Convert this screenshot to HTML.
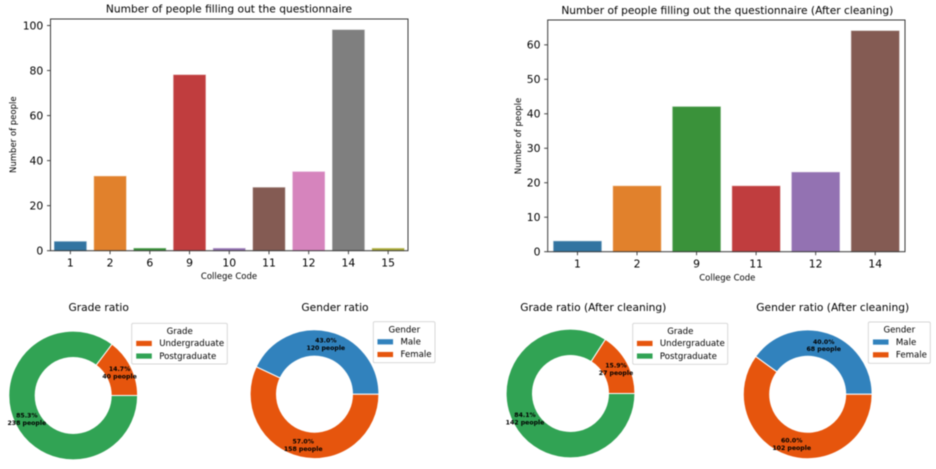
<!DOCTYPE html>
<html lang="en">
<head>
<meta charset="utf-8">
<title>Questionnaire charts</title>
<style>
html,body{margin:0;padding:0;background:#fff;width:936px;height:469px;overflow:hidden}
svg{display:block;filter:blur(.4px)}
text{font-family:"DejaVu Sans","Liberation Sans",sans-serif;fill:#000}
</style>
</head>
<body>
<svg id="figure" xmlns="http://www.w3.org/2000/svg" width="936" height="469" viewBox="0 0 936 469"></svg>
<script>
// ---- bar chart data ----
const beforeCategories = ['1', '2', '6', '9', '10', '11', '12', '14', '15'];
const beforeValues = [4, 33, 1, 78, 1, 28, 35, 98, 1];
const beforeTicks = [0, 20, 40, 60, 80, 100];
const afterCategories = ['1', '2', '9', '11', '12', '14'];
const afterValues = [3, 19, 42, 19, 23, 64];
const afterTicks = [0, 10, 20, 30, 40, 50, 60];
const beforeColors = ['#3274a1', '#e1812c', '#3a923a', '#c03d3e', '#9372b2', '#845b53', '#d684bd', '#7f7f7f', '#a9aa35'];
const afterColors = ['#3274a1', '#e1812c', '#3a923a', '#c03d3e', '#9372b2', '#845b53'];

// ---- donut chart data ----
const gradeLabels = ['Undergraduate', 'Postgraduate'];
const gradePercents = [14.7, 85.3];
const gradePeople = [40, 238];
const genderLabels = ['Male', 'Female'];
const genderPercents = [43.0, 57.0];
const genderPeople = [120, 158];
const gradeAfterPercents = [15.9, 84.1];
const gradeAfterPeople = [27, 142];
const genderAfterPercents = [40.0, 60.0];
const genderAfterPeople = [68, 102];
const gradeColors = ['#e6550d', '#31a354'];
const genderColors = ['#3182bd', '#e6550d'];

const NS = 'http://www.w3.org/2000/svg';
const fig = document.getElementById('figure');

function make(tag, attrs, parent, txt) {
  const el = document.createElementNS(NS, tag);
  for (const k in attrs) el.setAttribute(k, attrs[k]);
  if (txt !== undefined) el.textContent = txt;
  parent.appendChild(el);
  return el;
}

function drawBarChart(o) {
  const g = make('g', {}, fig);
  
  
  const yMax = Math.max.apply(null, o.values) * 1.05;
  const step = (o.right - o.left) / o.categories.length;
  const xScale = i => o.left + step * (i + 0.5);
  const yScale = v => o.bottom - (v / yMax) * (o.bottom - o.top);
  const barWidth = step * 0.8;

  o.categories.forEach((c, i) => {
    const y = yScale(o.values[i]);
    const bar = make('rect', {
      x: xScale(i) - barWidth / 2, y: y, width: barWidth, height: o.bottom - y,
      fill: o.colors[i], stroke: o.colors[i], 'stroke-opacity': 0.5, 'stroke-width': 1
    }, g);
    
    

    const tick = make('line', {
      x1: xScale(i), x2: xScale(i), y1: o.bottom, y2: o.bottom + 3.5, stroke: '#333', 'stroke-width': 0.9
    }, g);
    
    

    const lab = make('text', {
      x: xScale(i), y: o.bottom + 16, 'text-anchor': 'middle', 'font-size': 10.8
    }, g, c);
    
    
  });

  o.ticks.forEach(t => {
    const tick = make('line', {
      x1: o.left - 3.5, x2: o.left, y1: yScale(t), y2: yScale(t), stroke: '#333', 'stroke-width': 0.9
    }, g);
    
    

    const lab = make('text', {
      x: o.left - 7.2, y: yScale(t) + 3.9, 'text-anchor': 'end', 'font-size': 10.8
    }, g, String(t));
    
    
  });

  const frame = make('rect', {
    x: o.left, y: o.top, width: o.right - o.left, height: o.bottom - o.top,
    fill: 'none', stroke: '#3a3a3a', 'stroke-width': 1
  }, g);
  
  

  const title = make('text', {
    x: o.cx, y: o.titleY, 'text-anchor': 'middle', 'font-size': 10.65
  }, g, o.title);
  
  

  const xl = make('text', {
    x: o.cx, y: o.xLabelY, 'text-anchor': 'middle', 'font-size': 8.5
  }, g, 'College Code');
  
  

  const yl = make('text', {
    x: 0, y: 0, 'text-anchor': 'middle', 'font-size': 8.5,
    transform: 'translate(' + o.yLabelX + ',' + o.yLabelY + ') rotate(-90)'
  }, g, 'Number of people');
  
  
}

function drawDonut(o) {
  const g = make('g', {}, fig);
  
  
  const R = 64.4, r = 38;
  const total = o.percents.reduce((a, b) => a + b, 0);
  const pt = (rad, a) => [o.cx + rad * Math.cos(a), o.cy - rad * Math.sin(a)];
  let start = 0;
  o.percents.forEach((p, i) => {
    const sweep = p / total * Math.PI * 2;
    const end = start + sweep;
    const large = sweep > Math.PI ? 1 : 0;
    const a = pt(R, start), b = pt(R, end), c = pt(r, end), d = pt(r, start);
    const wedge = make('path', {
      d: 'M' + a[0] + ' ' + a[1] + 'A' + R + ' ' + R + ' 0 ' + large + ' 0 ' + b[0] + ' ' + b[1] +
         'L' + c[0] + ' ' + c[1] + 'A' + r + ' ' + r + ' 0 ' + large + ' 1 ' + d[0] + ' ' + d[1] + 'Z',
      fill: o.colors[i], stroke: '#fff', 'stroke-width': 1
    }, g);
    
    
    start = end;
  });

  start = 0;
  o.percents.forEach((p, i) => {
    const sweep = p / total * Math.PI * 2;
    const pos = pt(51.8, start + sweep / 2);
    const t1 = make('text', {
      x: pos[0], y: pos[1] - 1.2, 'text-anchor': 'middle', 'font-size': 6.2, 'font-weight': 'bold'
    }, g, p.toFixed(1) + '%');
    
    
    const t2 = make('text', {
      x: pos[0], y: pos[1] + 6.2, 'text-anchor': 'middle', 'font-size': 6.2, 'font-weight': 'bold'
    }, g, o.people[i] + ' people');
    
    
    start += sweep;
  });

  const title = make('text', {
    x: o.titleX, y: 311, 'text-anchor': 'middle', 'font-size': 10.65
  }, g, o.title);
  
  

  const L = o.legend;
  const box = make('rect', {
    x: L.x, y: L.y, width: L.w, height: L.h, rx: 1.5,
    fill: '#fff', 'fill-opacity': 0.8, stroke: '#d4d4d4', 'stroke-width': 0.9
  }, g);
  
  

  const lt = make('text', {
    x: L.titleX, y: L.y + 10.6, 'text-anchor': 'middle', 'font-size': 8.6
  }, g, L.title);
  
  

  o.labels.forEach((lab, i) => {
    const rowY = L.y + 19.8 + i * 12.7;
    const sw = make('rect', {
      x: L.swatchX, y: rowY - 2.5, width: 16, height: 5.6, fill: o.colors[i], stroke: '#fff', 'stroke-width': 0.4
    }, g);
    
    
    const tx = make('text', {
      x: L.swatchX + 23.2, y: rowY + 3, 'font-size': 8.6
    }, g, lab);
    
    
  });
}

drawBarChart({
  name: 'bar-chart-before-cleaning', title: 'Number of people filling out the questionnaire',
  categories: beforeCategories, values: beforeValues, ticks: beforeTicks, colors: beforeColors,
  left: 50.5, right: 408, top: 19, bottom: 250.7, cx: 229, titleY: 12.3, xLabelY: 279,
  yLabelX: 16, yLabelY: 134.7
});
drawBarChart({
  name: 'bar-chart-after-cleaning', title: 'Number of people filling out the questionnaire (After cleaning)',
  categories: afterCategories, values: afterValues, ticks: afterTicks, colors: afterColors,
  left: 547.7, right: 905, top: 20, bottom: 251.7, cx: 727.3, titleY: 13.9, xLabelY: 280.6,
  yLabelX: 521, yLabelY: 136
});
drawDonut({
  name: 'grade-ratio-donut', title: 'Grade ratio', titleX: 98.7, cx: 73.2, cy: 395.5,
  labels: gradeLabels, percents: gradePercents, people: gradePeople, colors: gradeColors,
  legend: { x: 131.7, y: 323.3, w: 95.6, h: 40.7, title: 'Grade', titleX: 179.7, swatchX: 136 }
});
drawDonut({
  name: 'gender-ratio-donut', title: 'Gender ratio', titleX: 335, cx: 314.5, cy: 394.2,
  labels: genderLabels, percents: genderPercents, people: genderPeople, colors: genderColors,
  legend: { x: 373.3, y: 321.7, w: 61.7, h: 41, title: 'Gender', titleX: 404.3, swatchX: 377.3 }
});
drawDonut({
  name: 'grade-ratio-after-cleaning-donut', title: 'Grade ratio (After cleaning)', titleX: 593.3, cx: 570.5, cy: 393.5,
  labels: gradeLabels, percents: gradeAfterPercents, people: gradeAfterPeople, colors: gradeColors,
  legend: { x: 632.7, y: 323.3, w: 95, h: 41, title: 'Grade', titleX: 680.3, swatchX: 636.7 }
});
drawDonut({
  name: 'gender-ratio-after-cleaning-donut', title: 'Gender ratio (After cleaning)', titleX: 832.7, cx: 807.7, cy: 394.3,
  labels: genderLabels, percents: genderAfterPercents, people: genderAfterPeople, colors: genderColors,
  legend: { x: 868.3, y: 322, w: 62, h: 41.3, title: 'Gender', titleX: 899.3, swatchX: 872.7 }
});
</script>
</body>
</html>
